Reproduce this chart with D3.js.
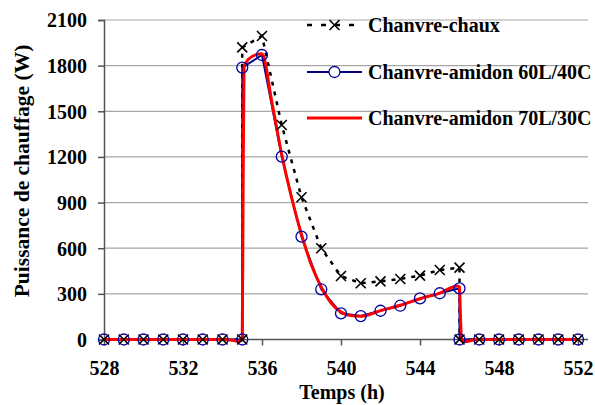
<!DOCTYPE html>
<html><head><meta charset="utf-8">
<script src="https://cdn.jsdelivr.net/npm/d3@7"></script>
<style>
body{margin:0;background:#fff;}
svg text{font-family:"Liberation Serif","Times New Roman",serif;font-weight:bold;fill:#000;}
</style></head>
<body><svg id="c" width="595" height="405"></svg>
<script>
const seriesNames = ["Chanvre-chaux","Chanvre-amidon 60L/40C","Chanvre-amidon 70L/30C"];
const xTicks = [528,532,536,540,544,548,552];
const yTicks = [0,300,600,900,1200,1500,1800,2100];
// Chanvre-chaux
const chauxX = [528,529,530,531,532,533,534,535,535,536,537,538,539,540,541,542,543,544,545,546,546,547,548,549,550,551,552];
const chauxY = [0,0,0,0,0,0,0,0,1920,1995,1410,935,600,417,370,382,398,420,457,472,0,0,0,0,0,0,0];
// Chanvre-amidon 60L/40C
const a60X = [528,529,530,531,532,533,534,535,535,536,537,538,539,540,541,542,543,544,545,546,546,547,548,549,550,551,552];
const a60Y = [0,0,0,0,0,0,0,0,1787,1870,1202,676,330,172,154,189,222,270,304,336,0,0,0,0,0,0,0];
// Chanvre-amidon 70L/30C (smoothed line, no markers)
const a70X = [528,529,530,531,532,533,534,534.5,534.85,535.0,535.04,535.09,535.3,535.7,536,536.5,537,537.5,538,538.5,539,539.5,540,540.5,541,542,543,544,545,545.9,546.0,546.05,546.1,546.3,546.7,547,548,549,550,551,552];
const a70Y = [0,0,0,0,0,0,0,-5,-12,0,900,1790,1840,1872,1878,1560,1215,930,690,490,345,240,180,157,152,190,225,268,305,352,345,150,0,-14,-3,0,0,0,0,0,0];

const svg = d3.select("#c");
const x = d3.scaleLinear().domain([528,552]).range([104,578]);
const y = d3.scaleLinear().domain([0,2100]).range([339.5,20]);
const plotRight = 588;

// gridlines
svg.append("g").selectAll("line").data(yTicks.filter(d=>d>0)).join("line")
  .attr("x1",104).attr("x2",plotRight).attr("y1",d=>y(d)).attr("y2",d=>y(d))
  .attr("stroke","#a6a6a6").attr("stroke-width",1.2);

// y axis
const yAxis = d3.axisLeft(y).tickValues(yTicks).tickSize(6).tickPadding(11).tickFormat(d3.format("d"));
const gy = svg.append("g").attr("transform","translate(104,0)").call(yAxis);
gy.select(".domain").attr("stroke","#555").attr("stroke-width",1.5);
gy.selectAll(".tick line").attr("stroke","#555").attr("stroke-width",1.5);
gy.selectAll(".tick text").attr("font-size",20).attr("dy","0.34em");

// x axis
const xAxis = d3.axisBottom(x).tickValues(xTicks).tickSize(6).tickPadding(15).tickFormat(d3.format("d"));
const gx = svg.append("g").attr("transform","translate(0,339.5)").call(xAxis);
gx.select(".domain").attr("d",`M104,0H${plotRight}`).attr("stroke","#555").attr("stroke-width",1.5);
gx.selectAll(".tick line").attr("stroke","#555").attr("stroke-width",1.5);
gx.selectAll(".tick text").attr("font-size",20);

// titles
svg.append("text").attr("x",342).attr("y",399).attr("text-anchor","middle").attr("font-size",20).text("Temps (h)");
svg.append("text").attr("transform","translate(29,171) rotate(-90)").attr("text-anchor","middle").attr("font-size",21.5).text("Puissance de chauffage (W)");

const straight = d3.line().x(d=>x(d[0])).y(d=>y(d[1]));
const smooth = d3.line().x(d=>x(d[0])).y(d=>y(d[1])).curve(d3.curveMonotoneX);
const chaux = chauxX.map((v,i)=>[v,chauxY[i]]);
const a60 = a60X.map((v,i)=>[v,a60Y[i]]);
const a70 = a70X.map((v,i)=>[v,a70Y[i]]);

svg.append("path").attr("d",straight(chaux)).attr("fill","none").attr("stroke","#000").attr("stroke-width",2.5).attr("stroke-dasharray","4,6");
svg.append("path").attr("d",straight(a60)).attr("fill","none").attr("stroke","#000080").attr("stroke-width",2);
svg.append("path").attr("d",smooth(a70)).attr("fill","none").attr("stroke","#ff0000").attr("stroke-width",3);

function cross(g, cx, cy, r){
  g.append("path").attr("d",`M${cx-r},${cy-r}L${cx+r},${cy+r}M${cx-r},${cy+r}L${cx+r},${cy-r}`)
   .attr("stroke","#000").attr("stroke-width",1.6).attr("fill","none");
}
const gm = svg.append("g");
gm.selectAll("circle").data(a60).join("circle").attr("cx",d=>x(d[0])).attr("cy",d=>y(d[1])).attr("r",5.5)
  .attr("fill","none").attr("stroke","#0000a0").attr("stroke-width",1.3);
chaux.forEach(d=>cross(gm, x(d[0]), y(d[1]), 5));

// legend
const lg = svg.append("g");
const rows = [25,72,118];
const lx1 = 307, lx2 = 362, lmid = 334.5;
lg.append("line").attr("x1",lx1).attr("x2",lx2).attr("y1",rows[0]).attr("y2",rows[0]).attr("stroke","#000").attr("stroke-width",2.5).attr("stroke-dasharray","5,9");
cross(lg, lmid, rows[0], 5);
lg.append("line").attr("x1",lx1).attr("x2",lx2).attr("y1",rows[1]).attr("y2",rows[1]).attr("stroke","#000080").attr("stroke-width",2);
lg.append("circle").attr("cx",lmid).attr("cy",rows[1]).attr("r",5.5).attr("fill","#fff").attr("stroke","#0000a0").attr("stroke-width",1.3);
lg.append("line").attr("x1",lx1).attr("x2",lx2).attr("y1",rows[2]).attr("y2",rows[2]).attr("stroke","#ff0000").attr("stroke-width",3);
lg.selectAll("text.l").data(seriesNames).join("text").attr("class","l")
  .attr("x",368).attr("y",(d,i)=>rows[i]).attr("dy","0.34em").attr("font-size",20).text(d=>d);
</script></body></html>
